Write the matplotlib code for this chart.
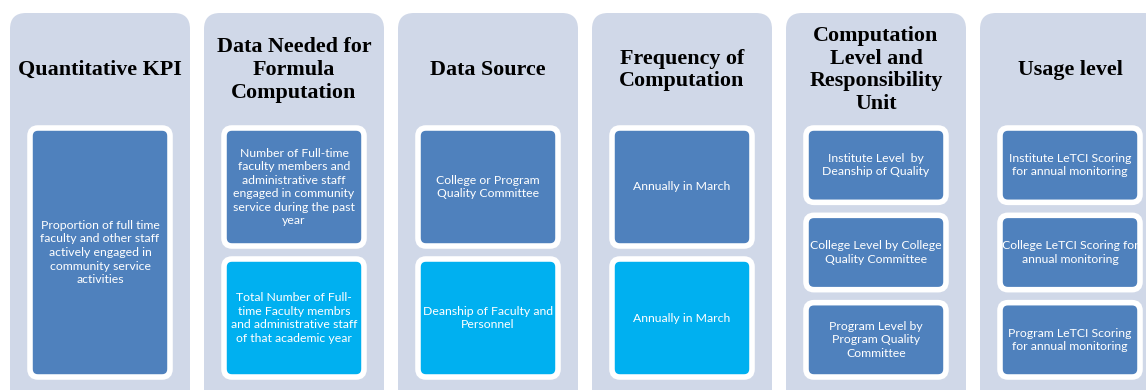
import matplotlib.pyplot as plt
from matplotlib.patches import FancyBboxPatch

# column headers
headers = [
    'Quantitative KPI',
    'Data Needed for\nFormula\nComputation',
    'Data Source',
    'Frequency of\nComputation',
    'Computation\nLevel and\nResponsibility\nUnit',
    'Usage level',
]

# inner boxes per column
box_texts = [
    ['Proportion of full time\nfaculty and other staff\nactively engaged in\ncommunity service\nactivities'],
    ['Number of Full-time\nfaculty members and\nadministrative staff\nengaged in community\nservice during the past\nyear',
     'Total Number of Full-\ntime Faculty membrs\nand administrative staff\nof that academic year'],
    ['College or Program\nQuality Committee',
     'Deanship of Faculty and\nPersonnel'],
    ['Annually in March',
     'Annually in March'],
    ['Institute Level  by\nDeanship of Quality',
     'College Level by College\nQuality Committee',
     'Program Level by\nProgram Quality\nCommittee'],
    ['Institute LeTCI Scoring\nfor annual monitoring',
     'College LeTCI Scoring for\nannual monitoring',
     'Program LeTCI Scoring\nfor annual monitoring'],
]

box_colors = [
    ['#4F81BD'],
    ['#4F81BD', '#00B0F0'],
    ['#4F81BD', '#00B0F0'],
    ['#4F81BD', '#00B0F0'],
    ['#4F81BD', '#4F81BD', '#4F81BD'],
    ['#4F81BD', '#4F81BD', '#4F81BD'],
]

W, H = 1146, 390
fig = plt.figure(figsize=(W / 100, H / 100), dpi=100)
ax = fig.add_axes([0, 0, 1, 1])
ax.set_xlim(0, W)
ax.set_ylim(H, 0)
ax.axis('off')

panel_w = 180
pitch = 194
x0 = 10
top = 13

for i, head in enumerate(headers):
    px = x0 + i * pitch
    # background panel (runs past the bottom edge)
    ax.add_patch(FancyBboxPatch((px, top), panel_w, 420,
                                boxstyle='round,pad=0,rounding_size=16',
                                fc='#D0D8E8', ec='none'))
    ax.text(px + panel_w / 2, 70, head, ha='center', va='center',
            family='Liberation Serif', fontsize=15.8, fontweight='bold',
            color='black', linespacing=1.18)

    # inner boxes
    n = len(box_texts[i])
    y_top, y_bot, gap = 128, 377, 13
    bh = (y_bot - y_top - gap * (n - 1)) / n
    bx = px + 20
    bw = panel_w - 40
    for j, (txt, col) in enumerate(zip(box_texts[i], box_colors[i])):
        by = y_top + j * (bh + gap)
        ax.add_patch(FancyBboxPatch((bx, by), bw, bh,
                                    boxstyle='round,pad=0,rounding_size=8',
                                    fc=col, ec='white', lw=4))
        ax.text(bx + bw / 2, by + bh / 2, txt, ha='center', va='center',
                family='Lato', fontsize=8.8, color='white', linespacing=1.28)

fig.savefig('out.png', dpi=100)
